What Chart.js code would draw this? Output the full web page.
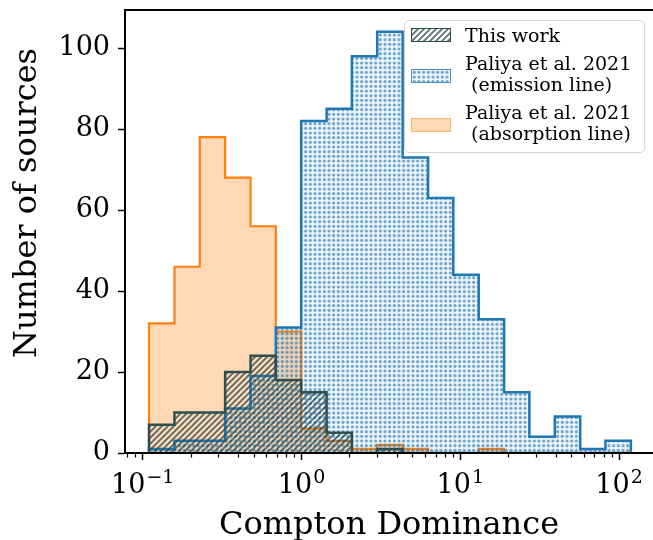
<!DOCTYPE html>
<html>
<head>
<meta charset="utf-8">
<script src="https://cdn.jsdelivr.net/npm/chart.js@4.4.1/dist/chart.umd.min.js"></script>
<style>
  body { margin: 0; background: #fff; }
  #wrap { position: relative; width: 653px; height: 540px; overflow: hidden; }
  #legend {
    position: absolute; left: 404px; top: 20px; width: 241px; height: 133px;
    border: 1.5px solid #d4d4d4; border-radius: 5px; box-sizing: border-box;
    background: rgba(255,255,255,0.85);
    font-family: 'DejaVu Serif'; font-size: 19px; color: #000;
  }
  .sw { position: absolute; left: 6px; width: 40px; height: 14px; box-sizing: border-box; }
  .txt { position: absolute; left: 60px; line-height: 21px; white-space: pre; }
</style>
</head>
<body>
<div id="wrap">
  <canvas id="hist" width="653" height="540"></canvas>
  <div id="legend">
    <span class="sw" id="sw0" style="top:7px"></span><div class="txt" style="top:4px">This work</div>
    <span class="sw" id="sw1" style="top:48px"></span><div class="txt" style="top:32px">Paliya et al. 2021
 (emission line)</div>
    <span class="sw" id="sw2" style="top:97px"></span><div class="txt" style="top:81px">Paliya et al. 2021
 (absorption line)</div>
  </div>
</div>
<script>
// log-spaced histogram bin edges (shared by the three samples)
const binEdges = [0.1096, 0.1585, 0.2286, 0.3304, 0.4775, 0.6887, 0.9954, 1.439, 2.075, 2.999,
                  4.335, 6.266, 9.036, 13.06, 18.88, 27.23, 39.36, 56.89, 82.04, 118.6];
// counts per bin
const thisWork       = [7, 10, 10, 20, 24, 18, 15, 5, 0, 1, 0, 0, 0, 0, 0, 0, 0, 0, 0];
const emissionLine   = [1, 3, 3, 11, 19, 31, 82, 85, 98, 104, 73, 63, 44, 33, 15, 4, 9, 1, 3];
const absorptionLine = [32, 46, 78, 68, 56, 30, 6, 3, 1, 2, 1, 0, 0, 1, 0, 0, 0, 0, 0];

const seriesNames = ['This work', 'Paliya et al. 2021 (emission line)', 'Paliya et al. 2021 (absorption line)'];
const xTickValues = [0.1, 1, 10, 100];
const xTickExponents = ['\u22121', '0', '1', '2'];   // labels are 10^exp
const xMinorTicks = [0.08, 0.09, 0.2, 0.3, 0.4, 0.5, 0.6, 0.7, 0.8, 0.9,
                     2, 3, 4, 5, 6, 7, 8, 9, 20, 30, 40, 50, 60, 70, 80, 90];
const yTickValues = [0, 20, 40, 60, 80, 100];

const FONT = 'DejaVu Serif';

function stepPoints(counts) {
  const pts = [{x: binEdges[0], y: 0}];
  counts.forEach((c, i) => pts.push({x: binEdges[i], y: c}));
  pts.push({x: binEdges[counts.length], y: 0});
  return pts;
}

function makeHatch() {
  const s = 6;
  const c = document.createElement('canvas');
  c.width = s; c.height = s;
  const g = c.getContext('2d');
  g.strokeStyle = 'rgba(47,79,79,0.8)';
  g.lineWidth = 1.8;
  g.beginPath();
  g.moveTo(0, s); g.lineTo(s, 0);
  g.moveTo(-1, 1); g.lineTo(1, -1);
  g.moveTo(s - 1, s + 1); g.lineTo(s + 1, s - 1);
  g.stroke();
  return c;
}

function makeDots() {
  const s = 14;
  const c = document.createElement('canvas');
  c.width = s; c.height = s;
  const g = c.getContext('2d');
  g.fillStyle = 'rgba(31,119,180,0.08)';
  g.fillRect(0, 0, s, s);
  g.fillStyle = 'rgba(31,119,180,0.6)';
  for (let i = 0; i < 3; i++) {
    for (let j = 0; j < 3; j++) {
      g.beginPath();
      g.arc(2.33 + i * 4.667, 2.33 + j * 4.667, 1.6, 0, Math.PI * 2);
      g.fill();
    }
  }
  return c;
}

const hatchTile = makeHatch();
const dotTile = makeDots();
const ctx = document.getElementById('hist').getContext('2d');
const hatchPattern = ctx.createPattern(hatchTile, 'repeat');
const dotPattern = ctx.createPattern(dotTile, 'repeat');

// legend swatches use the same tiles
const sw0 = document.getElementById('sw0');
sw0.style.backgroundImage = `url(${hatchTile.toDataURL()})`;
sw0.style.border = '1.5px solid #2f4f4f';
const sw1 = document.getElementById('sw1');
sw1.style.backgroundImage = `url(${dotTile.toDataURL()})`;
sw1.style.border = '1.5px solid #4a90c8';
const sw2 = document.getElementById('sw2');
sw2.style.background = 'rgba(255,127,14,0.3)';
sw2.style.border = '1.5px solid #ffb26b';

const framePlugin = {
  id: 'frame',
  afterDraw(chart) {
    const {ctx, chartArea: a, scales: {x}} = chart;
    ctx.save();
    // top spine
    ctx.strokeStyle = '#000';
    ctx.lineWidth = 2;
    ctx.beginPath();
    ctx.moveTo(a.left - 1, a.top);
    ctx.lineTo(a.right, a.top);
    ctx.stroke();
    // minor ticks on the log axis
    ctx.lineWidth = 1.2;
    ctx.beginPath();
    xMinorTicks.forEach(v => {
      const px = Math.round(x.getPixelForValue(v)) + 0.5;
      ctx.moveTo(px, a.bottom);
      ctx.lineTo(px, a.bottom + 4.5);
    });
    ctx.stroke();
    // x tick labels as 10 with a raised exponent
    ctx.fillStyle = '#000';
    ctx.textAlign = 'left';
    ctx.textBaseline = 'alphabetic';
    const baseFont = `27px "${FONT}"`, expFont = `19px "${FONT}"`;
    xTickValues.forEach((v, i) => {
      ctx.font = baseFont;
      const wb = ctx.measureText('10').width;
      ctx.font = expFont;
      const we = ctx.measureText(xTickExponents[i]).width;
      const x0 = x.getPixelForValue(v) - (wb + 1 + we) / 2;
      ctx.font = baseFont;
      ctx.fillText('10', x0, a.bottom + 40);
      ctx.font = expFont;
      ctx.fillText(xTickExponents[i], x0 + wb + 1, a.bottom + 30);
    });
    // y axis title
    ctx.font = `32px "${FONT}"`;
    ctx.textAlign = 'center';
    ctx.translate(36, 203);
    ctx.rotate(-Math.PI / 2);
    ctx.fillText('Number of sources', 0, 0);
    ctx.restore();
  }
};

const tickFont = {family: FONT, size: 27};

function noPad(scale) {
  scale.paddingTop = 0; scale.paddingBottom = 0;
  scale.paddingLeft = 0; scale.paddingRight = 0;
}

new Chart(ctx, {
  type: 'line',
  data: {
    datasets: [
      {
        label: seriesNames[0],
        data: stepPoints(thisWork),
        stepped: 'before',
        borderColor: '#2f4f4f',
        borderWidth: 2.5,
        backgroundColor: hatchPattern,
        fill: 'origin',
        pointRadius: 0
      },
      {
        label: seriesNames[1],
        data: stepPoints(emissionLine),
        stepped: 'before',
        borderColor: '#1f77b4',
        borderWidth: 2.5,
        backgroundColor: dotPattern,
        fill: 'origin',
        pointRadius: 0
      },
      {
        label: seriesNames[2],
        data: stepPoints(absorptionLine),
        stepped: 'before',
        borderColor: '#ff7f0e',
        borderWidth: 2.2,
        backgroundColor: 'rgba(255,127,14,0.3)',
        fill: 'origin',
        pointRadius: 0
      }
    ]
  },
  options: {
    responsive: false,
    animation: false,
    devicePixelRatio: 1,
    layout: {padding: {top: 10, right: 0, bottom: 0, left: 0}},
    plugins: {
      legend: {display: false},
      tooltip: {enabled: false}
    },
    scales: {
      x: {
        type: 'logarithmic',
        min: 0.07735,
        max: 163.5,
        afterBuildTicks: scale => { scale.ticks = xTickValues.map(v => ({value: v, major: true})); },
        afterFit: scale => { scale.height = 87; noPad(scale); },
        ticks: {display: false},
        grid: {drawOnChartArea: false, drawTicks: true, tickLength: 7, tickWidth: 1.5, tickColor: '#000'},
        border: {color: '#000', width: 2, z: 1},
        title: {
          display: true, text: 'Compton Dominance', color: '#000',
          font: {family: FONT, size: 32, lineHeight: 0.9}, padding: {top: 0, bottom: 0}
        }
      },
      y: {
        min: 0,
        max: 109.4,
        afterBuildTicks: scale => { scale.ticks = yTickValues.map(v => ({value: v})); },
        afterFit: scale => { scale.width = 125; noPad(scale); },
        ticks: {font: tickFont, color: '#000', padding: 8},
        grid: {drawOnChartArea: false, drawTicks: true, tickLength: 7, tickWidth: 1.5, tickColor: '#000'},
        border: {color: '#000', width: 2, z: 1}
      }
    }
  },
  plugins: [framePlugin]
});
</script>
</body>
</html>
